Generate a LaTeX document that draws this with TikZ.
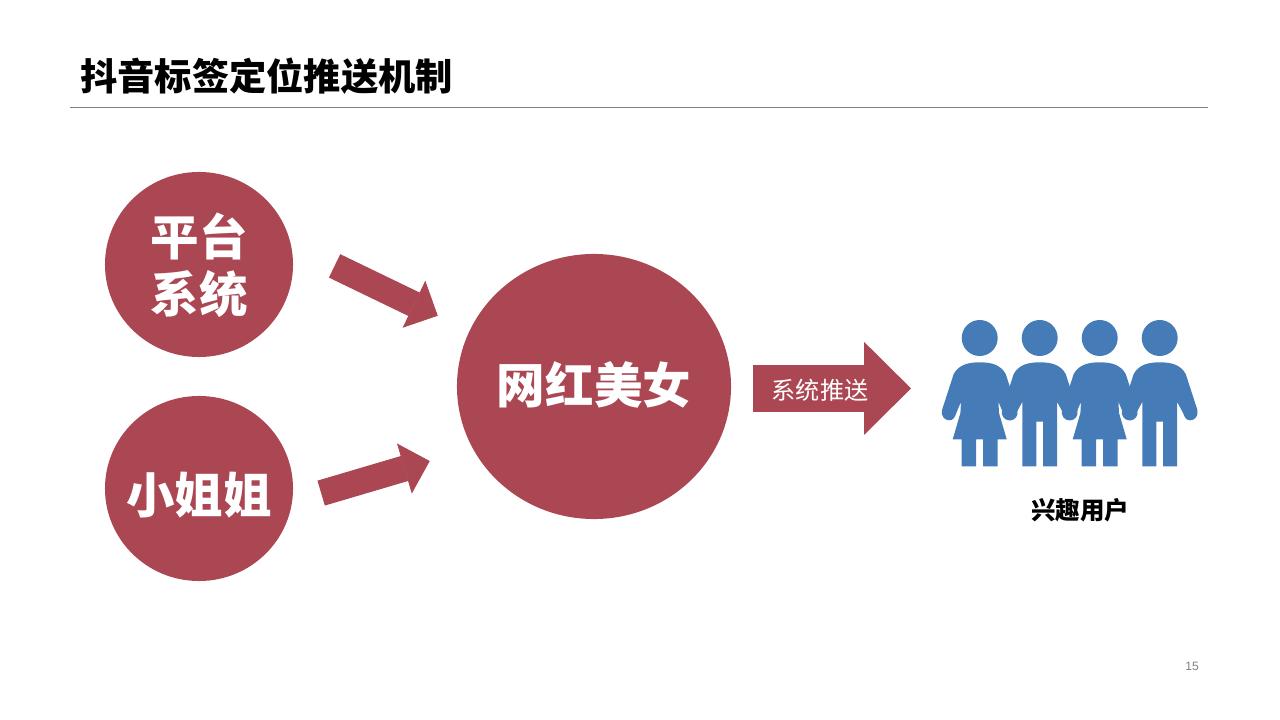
\documentclass[tikz,border=0pt]{standalone}
\usepackage{fontspec}
\usetikzlibrary{math}
\usetikzlibrary{arrows.meta, shapes.geometric}
\setmainfont{Liberation Sans}
\newfontfamily\cjk{Noto Sans CJK SC}
\definecolor{flowred}{HTML}{AB4752}
\definecolor{peopleblue}{HTML}{457CB8}
\tikzset{
  bubble/.style={ellipse, fill=flowred, inner sep=0pt},
  bubbletext/.style={text=white, inner sep=0pt, align=center, font=\cjk\bfseries\fontsize{34.5}{40.5}\selectfont},
  flowarrow/.style n args={3}{draw=flowred, line width=#1, -{Triangle[length=#2, width=#3, line width=0.6pt]}},
  girlfigure/.pic={
    \fill[peopleblue] (0,0) circle (0.45cm);
    \fill[peopleblue] (0,24.3) .. controls (12,24.3) and (21,27) .. (26,36) -- (37.7,72)
      .. controls (39,78) and (35,82.3) .. (30.7,82.3) .. controls (26.7,82.3) and (25,80) .. (23.4,75)
      -- (18.7,63.7) -- (19.3,75) -- (27,101.3) -- (18,101.3) -- (18,128.3) -- (3.5,128.3) -- (3.5,101.3)
      -- (-3.5,101.3) -- (-3.5,128.3) -- (-18,128.3) -- (-18,101.3) -- (-27,101.3) -- (-19.3,75) -- (-18.7,63.7)
      -- (-23.4,75) .. controls (-25,80) and (-26.7,82.3) .. (-30.7,82.3) .. controls (-35,82.3) and (-39,78) .. (-37.7,72)
      -- (-26,36) .. controls (-21,27) and (-12,24.3) .. (0,24.3) -- cycle;
  },
  boyfigure/.pic={
    \fill[peopleblue] (0,0) circle (0.45cm);
    \fill[peopleblue] (0,24.3) .. controls (12,24.3) and (21,27) .. (26,36) -- (37.7,72)
      .. controls (39,78) and (35,82.3) .. (30.7,82.3) .. controls (26.7,82.3) and (25,80) .. (23.4,75)
      -- (17.3,63.7) -- (17.3,128.3) -- (3.3,128.3) -- (3.3,83.7)
      -- (-3.3,83.7) -- (-3.3,128.3) -- (-17.3,128.3) -- (-17.3,63.7)
      -- (-23.4,75) .. controls (-25,80) and (-26.7,82.3) .. (-30.7,82.3) .. controls (-35,82.3) and (-39,78) .. (-37.7,72)
      -- (-26,36) .. controls (-21,27) and (-12,24.3) .. (0,24.3) -- cycle;
  },
}
\begin{document}
\begin{tikzpicture}[x=0.025cm, y=-0.025cm]
          \tikzmath{
            \heady=338;
            \pushy=388.4;
            \gap=60;
            \xa=979.7;
            \xb=\xa+\gap;
            \xc=\xb+\gap;
            \xd=\xc+\gap;}
          \useasboundingbox (0,0) rectangle (1280,720);
          \node[anchor=west, inner sep=0pt, font=\cjk\bfseries\fontsize{26.5}{30}\selectfont] (title) at (80,76) {抖音标签定位推送机制};
          \coordinate (rulestart) at (70,107);
          \coordinate (ruleend) at (1208,107);
          \draw[draw=black!50, line width=0.6pt] (rulestart) -- (ruleend);
          \node[bubble, minimum width=4.7cm, minimum height=4.625cm] (platform) at (199,264.5) {};
          \node[bubble, minimum width=4.7cm, minimum height=4.625cm] (xiaojiejie) at (199,488.5) {};
          \node[bubble, minimum width=6.85cm, minimum height=6.625cm] (wanghong) at (594,386.5) {};
          \node[bubbletext] (platformtext) at (199,265) {平台\\系统};
          \node[bubbletext] (xiaojiejietext) at (199,495) {小姐姐};
          \node[bubbletext] (wanghongtext) at (594,384.5) {网红美女};
          \draw[flowarrow={0.65cm}{0.66cm}{1.3cm}, shorten <=1.205cm, shorten >=0.875cm] (platform.12.4) -- (wanghong.156.5);
          \draw[flowarrow={0.65cm}{0.66cm}{1.3cm}, shorten <=0.75cm, shorten >=1.115cm] (xiaojiejie.-8.8) -- (wanghong.207.7);
          \coordinate (pushstart) at (753,\pushy);
          \coordinate (pushend) at (911,\pushy);
          \draw[flowarrow={1.1675cm}{1.175cm}{2.325cm}] (pushstart) -- (pushend);
          \node[text=white, inner sep=0pt, font=\cjk\fontsize{17.2}{20}\selectfont] (pushlabel) at (820,390) {系统推送};
          \pic at (\xa,\heady) {girlfigure};
          \pic at (\xb,\heady) {boyfigure};
          \pic at (\xc,\heady) {girlfigure};
          \pic at (\xd,\heady) {boyfigure};
          \node[inner sep=0pt, font=\cjk\bfseries\fontsize{17.4}{20}\selectfont] (users) at (1080,510) {兴趣用户};
          \node[text=black!50, inner sep=0pt, font=\fontsize{8.6}{10}\selectfont] (pagenum) at (1192,666) {15};
        \end{tikzpicture}
\end{document}
